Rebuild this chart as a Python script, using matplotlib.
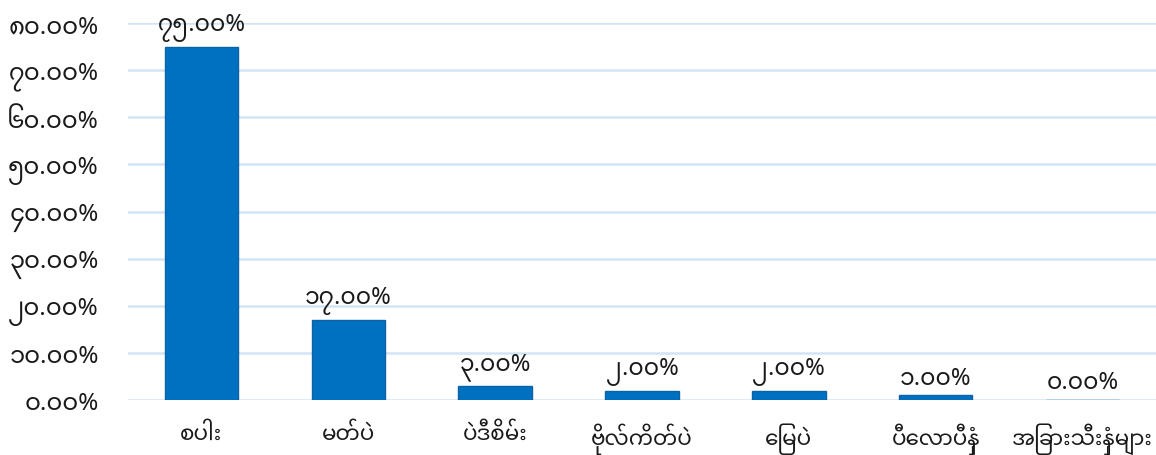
import matplotlib
matplotlib.use("Agg")
import matplotlib.pyplot as plt
import numpy as np

categories = ["စပါး", "မတ်ပဲ", "ပဲဒီစိမ်း", "ဗိုလ်ကိတ်ပဲ", "မြေပဲ", "ပီလောပီနှံ", "အခြားသီးနှံများ"]
values = [75, 17, 3, 2, 2, 1, 0]
value_labels = ["၇၅.၀၀%", "၁၇.၀၀%", "၃.၀၀%", "၂.၀၀%", "၂.၀၀%", "၁.၀၀%", "၀.၀၀%"]
yticks = [0, 10, 20, 30, 40, 50, 60, 70, 80]
ytick_labels = ["၀.၀၀%", "၁၀.၀၀%", "၂၀.၀၀%", "၃၀.၀၀%", "၄၀.၀၀%", "၅၀.၀၀%", "၆၀.၀၀%", "၇၀.၀၀%", "၈၀.၀၀%"]

FAM = ["Noto Sans Myanmar", "Noto Sans", "DejaVu Sans"]
plt.rcParams["font.family"] = FAM


def visual_order(s):
    """matplotlib has no complex-script shaper: move the pre-base vowel sign
    (U+1031) and medial ra (U+103C) in front of their consonant for display."""
    clusters = []
    for ch in s:
        cp = ord(ch)
        if clusters and 0x102B <= cp <= 0x103E:
            clusters[-1].append(ch)
        else:
            clusters.append([ch])
    out = []
    for cl in clusters:
        base, marks = cl[0], cl[1:]
        pre = [m for m in marks if m == "\u1031"] + [m for m in marks if m == "\u103C"]
        rest = [m for m in marks if m not in ("\u1031", "\u103C")]
        out.append("".join(pre) + base + "".join(rest))
    return "".join(out)


fig = plt.figure(figsize=(11.56, 4.56), dpi=100)
ax = fig.add_axes([128 / 1156, (456 - 401) / 456, (1156 - 128) / 1156, (401 - 24) / 456])

x = np.arange(len(categories))
ax.bar(x, values, width=0.5, color="#0070c0", edgecolor="#0b62a6", linewidth=1.0, zorder=3)
for xi, v, lab in zip(x, values, value_labels):
    ax.annotate(visual_order(lab), (xi, v), xytext=(0, 4), textcoords="offset points",
                ha="center", va="bottom", fontsize=17, color="#1a1a1a")

ax.set_xlim(-0.5, len(categories) - 0.5)
ax.set_ylim(0, 80)
ax.set_yticks(yticks)
ax.set_yticklabels([visual_order(t) for t in ytick_labels], fontsize=17.5, color="#1a1a1a")
ax.set_xticks(x)
ax.set_xticklabels([visual_order(c) for c in categories], fontsize=15.5, color="#1a1a1a")
ax.tick_params(axis="both", length=0)
ax.tick_params(axis="y", pad=21)
ax.tick_params(axis="x", pad=16)
ax.grid(axis="y", color="#d3e4f5", linewidth=1.8, zorder=0)
for s in ax.spines.values():
    s.set_visible(False)

fig.savefig("out.png")
